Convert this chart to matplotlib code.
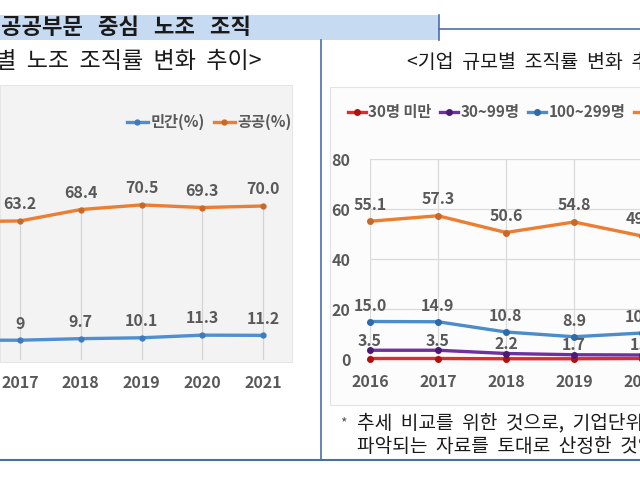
import matplotlib

matplotlib.use("Agg")
import matplotlib.pyplot as plt
from matplotlib.lines import Line2D
from matplotlib.patches import Rectangle

plt.rcParams["font.family"] = ["Noto Sans CJK KR", "DejaVu Sans"]

# left chart: union organisation rate by sector (%)
years_sector = [2016, 2017, 2018, 2019, 2020, 2021]
private_rate = [9.0, 9.0, 9.7, 10.1, 11.3, 11.2]
public_rate = [62.9, 63.2, 68.4, 70.5, 69.3, 70.0]
shown_years = [2017, 2018, 2019, 2020, 2021]

# right chart: organisation rate by company size (%)
years_size = [2016, 2017, 2018, 2019, 2020]
size_labels = ["30명 미만", "30~99명", "100~299명", "300명 이상"]
under30 = [0.2, 0.2, 0.1, 0.1, 0.2]
s30_99 = [3.5, 3.5, 2.2, 1.7, 1.6]
s100_299 = [15.0, 14.9, 10.8, 8.9, 10.4]
over300 = [55.1, 57.3, 50.6, 54.8, 49.2]
size_ticks = [0, 20, 40, 60, 80]

W, H = 640, 480
GRAY = "#595959"
FRAME = "#4a6fa5"


def fx(x):
    return x / W


def fy(y):
    return 1 - y / H


def box(ax_px):
    # pixel box (left, top, right, bottom) -> figure rect
    l, t, r, b = ax_px
    return [fx(l), fy(b), (r - l) / W, (b - t) / H]


fig = plt.figure(figsize=(6.4, 4.8), dpi=100)

# header bar and frame
fig.add_artist(Rectangle((fx(0), fy(40)), fx(439), 25 / H, transform=fig.transFigure,
                         facecolor="#c6daf2", edgecolor="none", zorder=-5))
fig.text(fx(1), fy(27), "공공부문   중심   노조   조직", fontsize=16, fontweight="bold",
         color="#1a1a1a", va="center")
fig.add_artist(Line2D([fx(439), fx(439)], [fy(15), fy(40)], color=FRAME, lw=1.2))
fig.add_artist(Line2D([fx(439), 1], [fy(29), fy(29)], color=FRAME, lw=1.2))
fig.add_artist(Line2D([fx(321), fx(321)], [fy(40), fy(460)], color=FRAME, lw=1.2))
fig.add_artist(Line2D([0, 1], [fy(460), fy(460)], color=FRAME, lw=1.5))

# panel titles
fig.text(fx(261), fy(62), "<부문별  노조  조직률  변화  추이>", fontsize=16.6, ha="right",
         va="center", color="#1a1a1a")
fig.text(fx(407), fy(62), "<기업  규모별  조직률  변화  추이>", fontsize=14, ha="left",
         va="center", color="#1a1a1a")

# chart backgrounds
fig.add_artist(Rectangle((0, fy(362)), fx(292), 277 / H, transform=fig.transFigure,
                         facecolor="#f3f3f3", edgecolor="#e6e6e6", lw=0.8, zorder=-5))
fig.add_artist(Rectangle((fx(330), fy(405)), fx(320), 318 / H, transform=fig.transFigure,
                         facecolor="#fcfcfc", edgecolor="#e3e3e3", lw=0.8, zorder=-5))

# ---- left chart ----
ax1 = fig.add_axes(box((-80, 85, 292, 360)))
ax1.set_facecolor("none")
ax1.set_xlim(2015.354, 2021.477)
ax1.set_ylim(0, 125)
ax1.vlines(years_sector, 0, public_rate, color="#d4d4d4", lw=0.9)
l_priv, = ax1.plot(years_sector, private_rate, color="#4f8fd0", lw=2.4, marker="o",
                   ms=3.5, mfc="#3d7bbf", mec="#3d7bbf", label="민간(%)", clip_on=False)
l_pub, = ax1.plot(years_sector, public_rate, color="#ed7d31", lw=2.4, marker="o",
                  ms=3.5, mfc="#c8692a", mec="#c8692a", label="공공(%)", clip_on=False)
for x, v in zip(years_sector, private_rate):
    if x in shown_years:
        ax1.annotate(f"{v:g}", (x, v), xytext=(0, 12), textcoords="offset points",
                     ha="center", va="center", fontsize=11.5, fontweight="bold", color=GRAY)
for x, v in zip(years_sector, public_rate):
    if x in shown_years:
        ax1.annotate(f"{v:.1f}", (x, v), xytext=(0, 12), textcoords="offset points",
                     ha="center", va="center", fontsize=11.5, fontweight="bold", color=GRAY)
ax1.set_xticks(shown_years)
ax1.set_xticklabels(shown_years, fontsize=11.5, fontweight="bold", color=GRAY)
ax1.tick_params(axis="x", length=0, pad=11)
ax1.set_yticks([])
for s in ax1.spines.values():
    s.set_visible(False)
fig.legend(handles=[l_priv, l_pub], loc="center left", bbox_to_anchor=(fx(119), fy(122)),
           ncol=2, frameon=False, handlelength=1.4, handletextpad=0.15, columnspacing=0.6,
           borderpad=0, prop={"size": 11, "weight": "bold"}, labelcolor=GRAY)

# ---- right chart ----
ax2 = fig.add_axes(box((370, 159, 710, 359)))
ax2.set_facecolor("none")
ax2.set_xlim(2016, 2021)
ax2.set_ylim(0, 80)
ax2.grid(True, color="#dadada", lw=0.9)
ax2.set_axisbelow(True)
series = [under30, s30_99, s100_299, over300]
colors = ["#e02b2b", "#7030a0", "#4a8ccc", "#ed7d31"]
mcolors = ["#b01010", "#4b1a75", "#2f6aa8", "#c8692a"]
handles = []
for vals, c, mc, lab in zip(series, colors, mcolors, size_labels):
    h, = ax2.plot(years_size, vals, color=c, lw=2.4, marker="o", ms=4, mfc=mc, mec=mc,
                  label=lab, clip_on=False)
    handles.append(h)
label_offsets = [None, 7, 11.5, 12]
for vals, off in zip(series, label_offsets):
    if off is None:
        continue
    for x, v in zip(years_size, vals):
        ax2.annotate(f"{v:.1f}", (x, v), xytext=(0, off), textcoords="offset points",
                     ha="center", va="center", fontsize=11.5, fontweight="bold", color=GRAY)
ax2.set_xticks(years_size)
ax2.set_xticklabels(years_size, fontsize=11.5, fontweight="bold", color=GRAY)
ax2.set_yticks(size_ticks)
ax2.set_yticklabels(size_ticks, fontsize=11.5, fontweight="bold", color=GRAY)
ax2.tick_params(axis="x", length=0, pad=11)
ax2.tick_params(axis="y", length=0, pad=14)
for s in ax2.spines.values():
    s.set_visible(False)
fig.legend(handles=handles, loc="center left", bbox_to_anchor=(fx(340), fy(112)),
           ncol=4, frameon=False, handlelength=1.2, handletextpad=0.15, columnspacing=0.55,
           borderpad=0, prop={"size": 11, "weight": "bold"}, labelcolor=GRAY)

# footnote
fig.text(fx(340), fy(423), "*", fontsize=10, color=GRAY, va="center")
fig.text(fx(357), fy(423), "추세  비교를  위한  것으로,  기업단위로", fontsize=13.8,
         color="#1a1a1a", va="center")
fig.text(fx(357), fy(446), "파악되는  자료를  토대로  산정한  것임", fontsize=13.8,
         color="#1a1a1a", va="center")

fig.savefig("out.png", dpi=100)
